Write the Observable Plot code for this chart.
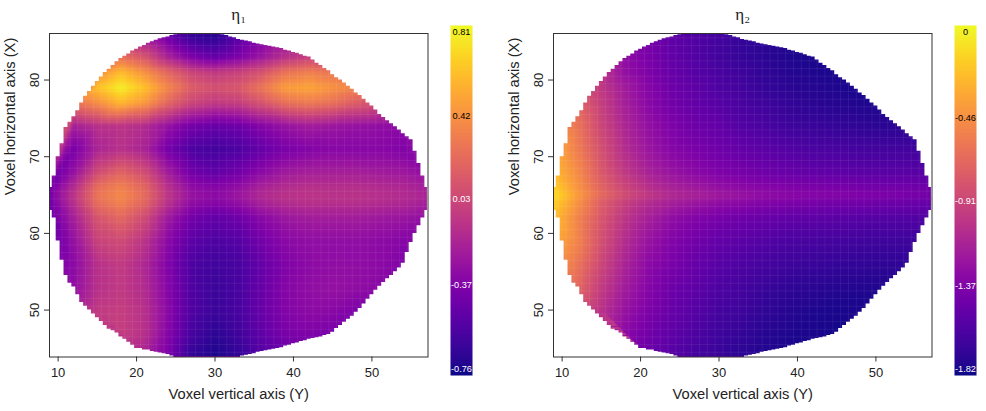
<!DOCTYPE html>
<html><head><meta charset="utf-8">
<script src="https://cdn.jsdelivr.net/npm/d3@7"></script>
<script src="https://cdn.jsdelivr.net/npm/@observablehq/plot@0.6"></script>
<style>html,body{margin:0;padding:0;background:#fff;overflow:hidden}#root{position:relative;width:986px;height:411px}#root svg{position:absolute;background:transparent;overflow:visible}</style>
</head><body><div id="root"></div>
<script>
const _ = null;
const voxelX = [9,12,15,18,21,24,27,30,33,36,39,42,45,48,51,54,57];
const voxelY = [86,83,81,79,77,74,71,68,66,65,64,62,59,56,53,50,47,44];
const eta1Rows = [
[_,_,_,_,_,-.48,-.7,-.74,-.55,-.4,_,_,_,_,_,_,_],
[_,_,_,.25,.1,-.18,-.38,-.48,-.38,-.25,-.1,-.02,_,_,_,_,_],
[_,_,.4,.6,.42,.2,.02,-.05,0,.1,.27,.33,.28,_,_,_,_],
[_,_,.62,.8,.62,.36,.15,.08,.12,.28,.47,.5,.42,.35,_,_,_],
[_,.25,.4,.58,.45,.2,.02,-.05,-.02,.1,.25,.3,.25,.15,.05,_,_],
[_,-.2,-.1,-.08,-.13,-.28,-.42,-.48,-.45,-.35,-.27,-.22,-.25,-.28,-.3,-.32,_],
[_,-.4,-.17,-.1,-.18,-.42,-.58,-.62,-.58,-.48,-.4,-.36,-.34,-.34,-.34,-.37,_],
[_,-.28,.05,.18,.06,-.22,-.43,-.5,-.43,-.32,-.23,-.2,-.2,-.2,-.22,-.24,-.3],
[-.42,-.12,.24,.34,.2,-.1,-.3,-.35,-.29,-.18,-.12,-.1,-.11,-.11,-.13,-.15,-.2],
[-.4,-.08,.27,.37,.23,-.07,-.27,-.32,-.25,-.14,-.09,-.08,-.09,-.09,-.11,-.13,-.17],
[-.42,-.1,.24,.34,.2,-.1,-.3,-.35,-.29,-.18,-.12,-.1,-.11,-.11,-.13,-.15,-.2],
[-.47,-.2,.1,.2,.05,-.24,-.43,-.5,-.45,-.33,-.25,-.22,-.22,-.22,-.24,-.26,-.3],
[_,-.28,0,.05,-.08,-.33,-.52,-.58,-.55,-.42,-.33,-.3,-.3,-.3,-.32,-.35,_],
[_,-.32,-.1,-.04,-.15,-.37,-.58,-.63,-.6,-.48,-.37,-.32,-.3,-.3,-.32,-.37,_],
[_,-.3,-.1,-.05,-.13,-.35,-.57,-.65,-.6,-.47,-.35,-.3,-.28,-.3,-.33,_,_],
[_,_,-.05,-.02,-.1,-.33,-.57,-.65,-.6,-.47,-.36,-.32,-.33,-.38,_,_,_],
[_,_,_,-.02,-.1,-.35,-.6,-.7,-.63,-.5,-.4,-.38,-.4,_,_,_,_],
[_,_,_,_,-.18,-.4,-.68,-.76,-.68,-.55,-.47,-.45,_,_,_,_,_]
];
const eta2Rows = [
[_,_,_,_,_,-1.53,-1.59,-1.65,-1.72,-1.76,_,_,_,_,_,_,_],
[_,_,_,-1.29,-1.40,-1.51,-1.59,-1.66,-1.72,-1.76,-1.80,-1.82,_,_,_,_,_],
[_,_,_,-1.27,-1.38,-1.49,-1.57,-1.63,-1.68,-1.74,-1.78,-1.80,-1.82,_,_,_,_],
[_,_,-1.00,-1.19,-1.34,-1.46,-1.53,-1.61,-1.66,-1.72,-1.76,-1.78,-1.80,-1.82,_,_,_],
[_,-.72,-.96,-1.17,-1.32,-1.44,-1.51,-1.57,-1.63,-1.68,-1.72,-1.76,-1.78,-1.80,-1.80,_,_],
[_,-.62,-.91,-1.12,-1.27,-1.38,-1.46,-1.51,-1.59,-1.63,-1.68,-1.70,-1.72,-1.74,-1.76,-1.76,_],
[_,-.57,-.85,-1.08,-1.23,-1.34,-1.40,-1.46,-1.51,-1.55,-1.59,-1.62,-1.63,-1.65,-1.66,-1.66,_],
[-.25,-.49,-.79,-1.00,-1.15,-1.25,-1.32,-1.38,-1.42,-1.46,-1.49,-1.52,-1.53,-1.55,-1.56,-1.56,-1.58],
[-.15,-.44,-.72,-.91,-1.06,-1.15,-1.21,-1.27,-1.31,-1.34,-1.37,-1.39,-1.40,-1.42,-1.43,-1.44,-1.45],
[-.08,-.40,-.68,-.87,-1.00,-1.10,-1.15,-1.21,-1.25,-1.29,-1.32,-1.34,-1.35,-1.37,-1.38,-1.40,-1.42],
[-.15,-.45,-.76,-.95,-1.08,-1.17,-1.23,-1.29,-1.32,-1.36,-1.39,-1.41,-1.43,-1.44,-1.46,-1.47,-1.50],
[-.23,-.53,-.81,-1.02,-1.17,-1.29,-1.36,-1.42,-1.46,-1.49,-1.52,-1.54,-1.55,-1.57,-1.58,-1.59,-1.60],
[_,-.53,-.85,-1.08,-1.25,-1.36,-1.44,-1.51,-1.55,-1.59,-1.62,-1.64,-1.65,-1.67,-1.68,-1.68,_],
[_,-.62,-.91,-1.14,-1.31,-1.40,-1.49,-1.57,-1.61,-1.65,-1.68,-1.70,-1.72,-1.73,-1.74,-1.74,_],
[_,-.70,-.98,-1.19,-1.34,-1.46,-1.53,-1.61,-1.65,-1.70,-1.74,-1.76,-1.78,-1.79,-1.80,_,_],
[_,_,-1.04,-1.25,-1.38,-1.49,-1.57,-1.65,-1.68,-1.74,-1.78,-1.80,-1.82,-1.82,_,_,_],
[_,_,_,-1.31,-1.44,-1.53,-1.61,-1.68,-1.72,-1.78,-1.80,-1.82,-1.83,_,_,_,_],
[_,_,_,_,-1.48,-1.57,-1.65,-1.70,-1.76,-1.80,-1.82,-1.83,_,_,_,_,_]
];
// Edge of the masked region, one value per half voxel from X = 9 to 57
const upperEdge = [66,67.5,70,71.7,73.8,74.5,75.2,76,77,77.9,78.5,79.2,79.8,80.4,81,81.4,81.9,82.4,82.8,83.1,83.4,83.8,84,84.3,84.5,84.8,85,85.2,85.4,85.5,85.6,85.8,85.9,86,86.1,86.1,86.1,86.1,86.1,86.1,86.1,86.1,86.1,86.1,85.9,85.8,85.6,85.5,85.3,85.2,85.1,85,84.8,84.7,84.6,84.5,84.4,84.3,84.2,84.1,83.9,83.8,83.6,83.5,83.3,83.1,83,82.6,82.2,81.9,81.5,81.2,80.7,80.3,80,79.6,79.2,78.8,78.3,78,77.5,77,76.6,76.1,75.5,75.1,74.7,74.3,73.9,73.5,73,72.6,72.2,70.7,69.1,67.5,66];
const lowerEdge = [63,62,59,56.5,54.5,53.5,53,52,51,50.5,50,49.5,49,48.5,48,47.5,47.3,47,46.5,46.2,45.8,45.4,45,45,44.8,44.8,44.6,44.5,44.4,44.3,44.2,44,43.8,43.8,43.8,43.8,43.8,43.8,43.8,43.8,43.8,43.8,43.8,43.8,43.8,43.8,43.8,43.8,43.8,44,44.1,44.2,44.3,44.5,44.6,44.7,44.8,44.9,45,45.1,45.3,45.4,45.6,45.7,45.9,46,46.2,46.3,46.4,46.5,46.7,46.8,47.1,47.6,48,48.4,48.8,49.2,49.7,50.2,50.8,51.4,52,52.6,53.1,53.6,54.1,54.5,55,55.5,56.1,57.5,58.8,60,61,62,63];
const eta1Domain = [-0.79, 0.84];
const eta2Domain = [-1.854, 0.038];
const eta1Ticks = [0.81, 0.42, 0.03, -0.37, -0.76];
const eta2Ticks = [0, -0.46, -0.91, -1.37, -1.82];
const tickColors = ["black","black","white","white","white"];
const xTicks = [10,20,30,40,50];
const yTicks = [50,60,70,80];
const xRange = [8.9, 57.15];
const yRange = [43.88, 86.07];
const FONT = "'Liberation Sans', Arial, sans-serif";

const edgeRows = [{x:xRange[0]-0.3,up:64.5,lo:64.5},{x:xRange[0],up:64.5,lo:64.5},
  ...upperEdge.map((u,i)=>({x:9+i/2,up:u,lo:lowerEdge[i]})),
  {x:xRange[1],up:64.5,lo:64.5},{x:xRange[1]+0.3,up:64.5,lo:64.5}];

function panel(rows, domain, title, left){
  const pts = [];
  rows.forEach((r,j)=>r.forEach((v,i)=>{ if(v!==null) pts.push({x:voxelX[i],y:voxelY[j],v}); }));
  const svg = Plot.plot({
    width:445, height:411, marginLeft:49, marginRight:17.5, marginTop:33, marginBottom:54.5,
    style:{fontFamily:FONT, background:"transparent"},
    x:{domain:xRange}, y:{domain:yRange},
    color:{type:"linear", scheme:"plasma", domain},
    marks:[
      Plot.raster(pts,{x:"x",y:"y",fill:"v",interpolate:"barycentric",x1:xRange[0],x2:xRange[1],y1:yRange[0],y2:yRange[1],pixelSize:1}),
      Plot.gridX(d3.range(9.5,57,1),{stroke:"white",strokeOpacity:0.07}),
      Plot.gridY(d3.range(44.5,86,1),{stroke:"white",strokeOpacity:0.07}),
      Plot.areaY(edgeRows,{x:"x",y1:"up",y2:yRange[1]+1,curve:"step",fill:"white"}),
      Plot.areaY(edgeRows,{x:"x",y1:yRange[0]-1,y2:"lo",curve:"step",fill:"white"}),
      Plot.frame({stroke:"#333",strokeWidth:1}),
      Plot.axisX({ticks:xTicks,tickSize:5,tickPadding:6,fontSize:13,label:null,stroke:"#333",color:"#222"}),
      Plot.axisY({ticks:yTicks,tickSize:5,tickPadding:6,fontSize:13,tickRotate:-90,label:null,stroke:"#333",color:"#222"}),
      Plot.text(["Voxel vertical axis (Y)"],{frameAnchor:"bottom",dy:42,fontSize:14.7,fill:"#222"}),
      Plot.text(["Voxel horizontal axis (X)"],{frameAnchor:"left",dx:-39,rotate:-90,fontSize:14.7,fill:"#222"}),
      Plot.text([title],{frameAnchor:"top",dy:-26,fontSize:17,fontFamily:"'Liberation Serif','DejaVu Serif',serif",fill:"#222"})
    ]
  });
  svg.style.left = left+"px"; svg.style.top = "0px";
  return svg;
}
function colorbar(domain, ticks, left){
  const svg = Plot.plot({
    width:22, height:350, margin:0,
    style:{fontFamily:FONT, background:"transparent"},
    x:{domain:[0,1],axis:null}, y:{domain,axis:null},
    color:{type:"linear",scheme:"plasma",domain},
    marks:[
      Plot.raster({fill:(x,y)=>y,x1:0,x2:1,y1:domain[0],y2:domain[1],pixelSize:1}),
      Plot.text(ticks,{x:0.5,y:d=>d,text:d=>String(d),fontSize:9.2,fill:(d,i)=>tickColors[i]})
    ]
  });
  svg.style.left = left+"px"; svg.style.top = "25px";
  return svg;
}
const root = document.getElementById("root");
root.append(
  panel(eta1Rows, eta1Domain, "η₁", 0),
  colorbar(eta1Domain, eta1Ticks, 450),
  panel(eta2Rows, eta2Domain, "η₂", 504),
  colorbar(eta2Domain, eta2Ticks, 953.5)
);
</script></body></html>
